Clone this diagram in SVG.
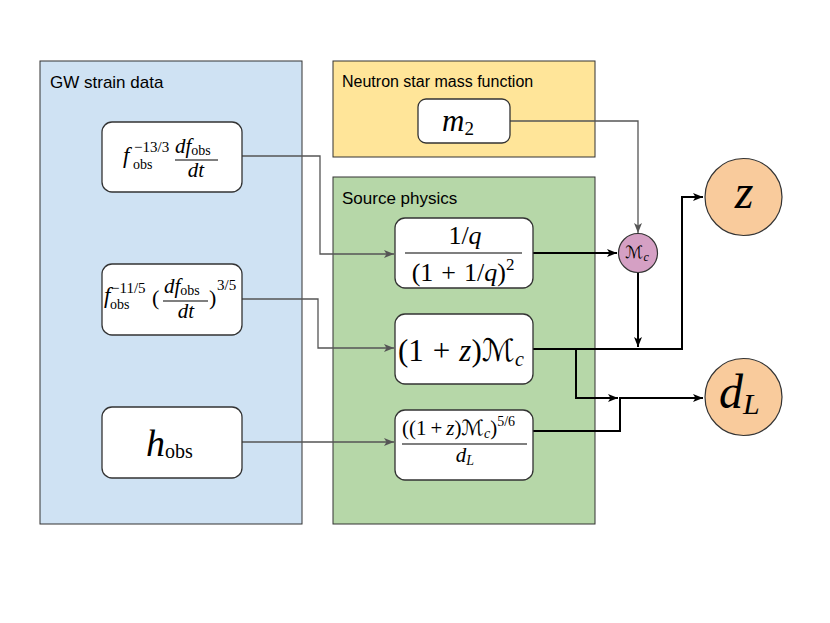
<svg xmlns="http://www.w3.org/2000/svg" width="830" height="623" viewBox="0 0 830 623">
<style>
.panel{stroke:#333;stroke-width:1}
.node{fill:#fff;stroke:#333;stroke-width:1.3}
.lbl{font-family:"Liberation Sans",Arial,sans-serif;fill:#000}
.m{font-family:"Liberation Serif","DejaVu Serif",serif;fill:#000}
.i{font-style:italic}
.cal{font-family:"DejaVu Serif","DejaVu Sans",serif;font-style:normal}
.fr{stroke:#000;stroke-width:1.2}
.g{fill:none;stroke:#555;stroke-width:1.3}
.b{fill:none;stroke:#000;stroke-width:2}
</style>
<defs>
<marker id="ag" markerUnits="userSpaceOnUse" markerWidth="12" markerHeight="10" refX="10" refY="4" orient="auto">
<path d="M0,0 L10,4 L0,8 L2.5,4 Z" fill="#555"/>
</marker>
<marker id="ab" markerUnits="userSpaceOnUse" markerWidth="12" markerHeight="10" refX="10" refY="4" orient="auto">
<path d="M0,0 L10,4 L0,8 L2.5,4 Z" fill="#000"/>
</marker>
</defs>
<rect width="830" height="623" fill="#fff"/>

<g id="panel-gw">
<rect class="panel" x="40" y="61" width="262" height="463" fill="#cfe2f3"/>
<text class="lbl" x="50" y="88" font-size="17">GW strain data</text>
</g>
<g id="panel-ns">
<rect class="panel" x="333" y="61" width="262" height="96" fill="#ffe599"/>
<text class="lbl" x="342" y="87" font-size="16">Neutron star mass function</text>
</g>
<g id="panel-src">
<rect class="panel" x="333" y="177" width="262" height="347" fill="#b6d7a8"/>
<text class="lbl" x="342" y="204" font-size="17">Source physics</text>
</g>

<g id="connectors">
<path class="g" d="M242,156 H320 V254 H394" marker-end="url(#ag)"/>
<path class="g" d="M242,299 H318 V348 H394" marker-end="url(#ag)"/>
<path class="g" d="M242,442 H394" marker-end="url(#ag)"/>
<path class="g" d="M510,121 H638 V233" marker-end="url(#ag)"/>
<path class="b" d="M533,253 H617" marker-end="url(#ab)"/>
<path class="b" d="M638,273 V347" marker-end="url(#ab)"/>
<path class="b" d="M533,349 H682 V197 H703" marker-end="url(#ab)"/>
<path class="b" d="M576,349 V398 H618" marker-end="url(#ab)"/>
<path class="b" d="M533,431 H620 V398 H703" marker-end="url(#ab)"/>
</g>

<g id="n-f13">
<rect class="node" x="102" y="122" width="140" height="70" rx="10"/>
<text class="m i" x="123" y="163" font-size="23">f</text>
<text class="m" x="134" y="152" font-size="15">−13/3</text>
<text class="m" x="133" y="169" font-size="14">obs</text>
<text class="m" x="175" y="153" font-size="21"><tspan class="i">df</tspan><tspan font-size="14" dy="2">obs</tspan></text>
<line class="fr" x1="175" y1="160" x2="218" y2="160"/>
<text class="m i" x="196" y="177" font-size="21" text-anchor="middle">dt</text>
</g>

<g id="n-f11">
<rect class="node" x="102" y="264" width="140" height="71" rx="10"/>
<text class="m i" x="104" y="303" font-size="23">f</text>
<text class="m" x="111" y="293" font-size="15">−11/5</text>
<text class="m" x="110" y="309" font-size="14">obs</text>
<text class="m" x="152" y="305" font-size="22">(</text>
<text class="m" x="164" y="293" font-size="21"><tspan class="i">df</tspan><tspan font-size="14" dy="2">obs</tspan></text>
<line class="fr" x1="163" y1="301" x2="208" y2="301"/>
<text class="m i" x="186" y="318" font-size="21" text-anchor="middle">dt</text>
<text class="m" x="209" y="305" font-size="22">)</text>
<text class="m" x="217" y="290" font-size="15">3/5</text>
</g>

<g id="n-hobs">
<rect class="node" x="102" y="407" width="140" height="71" rx="10"/>
<text class="m" x="146" y="456" font-size="38"><tspan class="i">h</tspan><tspan font-size="20" dy="2">obs</tspan></text>
</g>

<g id="n-m2">
<rect class="node" x="418" y="99" width="92" height="44" rx="8"/>
<text class="m" x="442" y="131" font-size="31"><tspan class="i">m</tspan><tspan font-size="19" dy="4">2</tspan></text>
</g>

<g id="n-q">
<rect class="node" x="395" y="218" width="138" height="70" rx="10"/>
<text class="m" x="465" y="244" font-size="26" text-anchor="middle">1/<tspan class="i">q</tspan></text>
<line class="fr" x1="405" y1="253" x2="522" y2="253"/>
<text class="m" x="463" y="281" font-size="26" text-anchor="middle">(1<tspan dx="8">+</tspan><tspan dx="8">1/</tspan><tspan class="i">q</tspan>)<tspan font-size="17" dy="-11">2</tspan></text>
</g>

<g id="n-zmc">
<rect class="node" x="395" y="314" width="138" height="70" rx="10"/>
<text class="m" x="398" y="361" font-size="31">(1<tspan dx="9">+</tspan><tspan class="i" dx="9">z</tspan>)<tspan class="cal">ℳ</tspan><tspan class="i" font-size="20" dy="5">c</tspan></text>
</g>

<g id="n-strain">
<rect class="node" x="395" y="410" width="138" height="70" rx="10"/>
<text class="m" x="402" y="435" font-size="21">((1<tspan dx="4">+</tspan><tspan class="i" dx="4">z</tspan>)<tspan class="cal">ℳ</tspan><tspan class="i" font-size="14" dy="3">c</tspan><tspan dy="-3">)</tspan><tspan font-size="14" dy="-9">5/6</tspan></text>
<line class="fr" x1="402" y1="444" x2="527" y2="444"/>
<text class="m i" x="465" y="462" font-size="21" text-anchor="middle">d<tspan font-size="14" dy="3">L</tspan></text>
</g>

<g id="n-mc">
<circle cx="638" cy="253" r="19.5" fill="#d5a0c4" stroke="#333" stroke-width="1.2"/>
<text class="m" x="637" y="258" font-size="17" text-anchor="middle"><tspan class="cal">ℳ</tspan><tspan class="i" font-size="12" dy="3">c</tspan></text>
</g>

<g id="n-z">
<circle cx="743.5" cy="197" r="38.5" fill="#f9cb9c" stroke="#333" stroke-width="1.2"/>
<text class="m i" x="744" y="208" font-size="48" text-anchor="middle">z</text>
</g>

<g id="n-dl">
<circle cx="743.5" cy="397" r="38.5" fill="#f9cb9c" stroke="#333" stroke-width="1.2"/>
<text class="m i" x="719" y="408" font-size="48">d<tspan font-size="30" dy="6">L</tspan></text>
</g>
</svg>
